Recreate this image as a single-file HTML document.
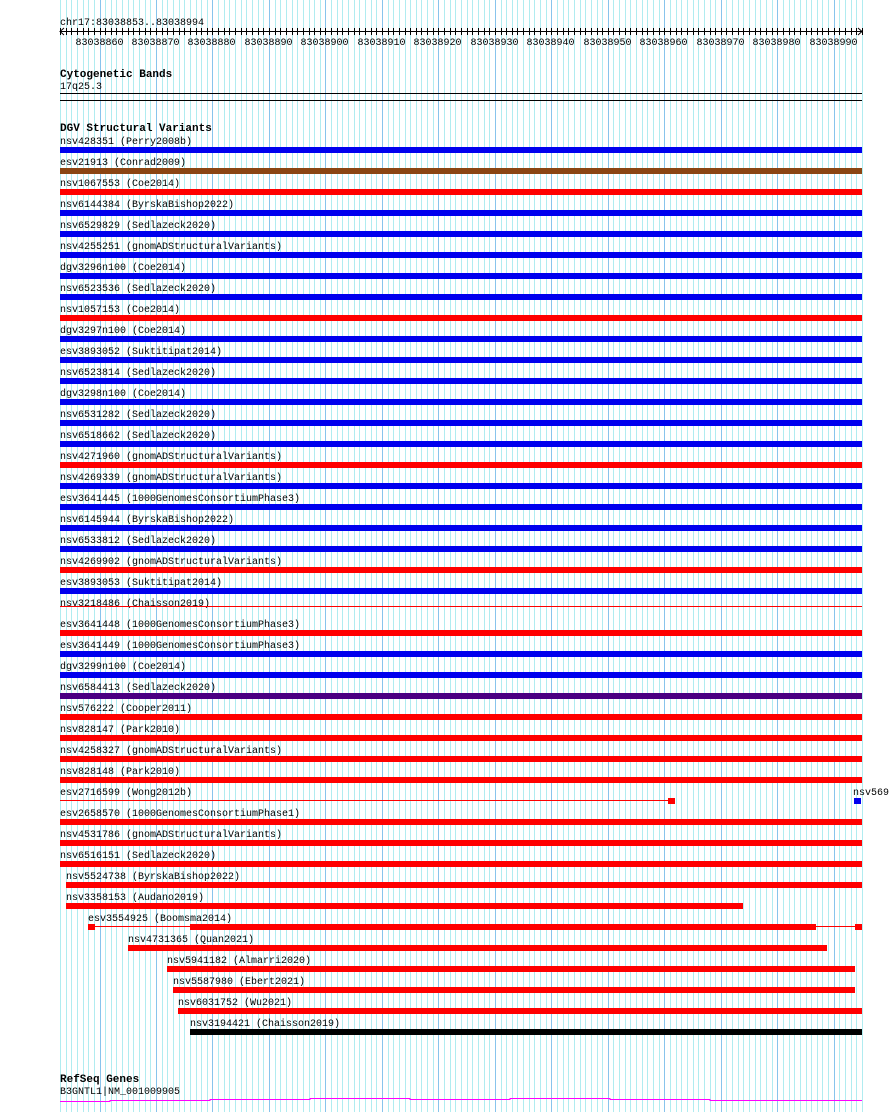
<!DOCTYPE html>
<html><head><meta charset="utf-8"><style>
body{margin:0;background:#fff;}
svg text{font-family:"Liberation Mono","DejaVu Sans Mono",monospace;font-size:10px;fill:#000;}
.b{font-weight:bold;font-size:11px;}
</style></head><body>
<svg id="s" width="890" height="1112" xmlns="http://www.w3.org/2000/svg"></svg>
<script>
var s=document.getElementById('s'),h='';
var x0=60,x1=862,pb=(x1-x0)/142;
for(var i=0;i<=142;i++){var x=Math.round(x0+i*pb)+0.5;var p=83038853+i;
h+='<line x1="'+x+'" y1="0" x2="'+x+'" y2="1112" stroke="'+(p%10==0?'#88c4ec':'#b0ecf0')+'" stroke-width="1"/>';}
h+='<text x="60" y="25">chr17:83038853..83038994</text>';
h+='<line x1="60" y1="31.5" x2="862" y2="31.5" stroke="#000"/>';
h+='<path d="M64 28 L60 31.5 L64 35 M858 28 L862 31.5 L858 35" stroke="#000" fill="none"/>';
for(var i=0;i<=142;i++){var x=Math.round(x0+i*pb)+0.5;var p=83038853+i;
h+='<line x1="'+x+'" y1="28" x2="'+x+'" y2="35" stroke="#000"/>';
if(p%10==0)h+='<text x="'+(x-1)+'" y="45" text-anchor="middle">'+p+'</text>';}
h+='<text class="b" x="60" y="77">Cytogenetic Bands</text><text x="60" y="89">17q25.3</text>';
h+='<line x1="60" y1="93.5" x2="862" y2="93.5" stroke="#000"/><line x1="60" y1="100.5" x2="862" y2="100.5" stroke="#000"/>';
h+='<text class="b" x="60" y="131">DGV Structural Variants</text>';
var B='#0000ee',R='#ff0000';
var rows=[
['nsv428351 (Perry2008b)',B],['esv21913 (Conrad2009)','#8b4513'],['nsv1067553 (Coe2014)',R],['nsv6144384 (ByrskaBishop2022)',B],
['nsv6529829 (Sedlazeck2020)',B],['nsv4255251 (gnomADStructuralVariants)',B],['dgv3296n100 (Coe2014)',B],['nsv6523536 (Sedlazeck2020)',B],
['nsv1057153 (Coe2014)',R],['dgv3297n100 (Coe2014)',B],['esv3893052 (Suktitipat2014)',B],['nsv6523814 (Sedlazeck2020)',B],
['dgv3298n100 (Coe2014)',B],['nsv6531282 (Sedlazeck2020)',B],['nsv6518662 (Sedlazeck2020)',B],['nsv4271960 (gnomADStructuralVariants)',R],
['nsv4269339 (gnomADStructuralVariants)',B],['esv3641445 (1000GenomesConsortiumPhase3)',B],['nsv6145944 (ByrskaBishop2022)',B],['nsv6533812 (Sedlazeck2020)',B],
['nsv4269902 (gnomADStructuralVariants)',R],['esv3893053 (Suktitipat2014)',B],['nsv3218486 (Chaisson2019)','thin'],['esv3641448 (1000GenomesConsortiumPhase3)',R],
['esv3641449 (1000GenomesConsortiumPhase3)',B],['dgv3299n100 (Coe2014)',B],['nsv6584413 (Sedlazeck2020)','#4b0082'],['nsv576222 (Cooper2011)',R],
['nsv828147 (Park2010)',R],['nsv4258327 (gnomADStructuralVariants)',R],['nsv828148 (Park2010)',R],['esv2716599 (Wong2012b)','sp'],
['esv2658570 (1000GenomesConsortiumPhase1)',R],['nsv4531786 (gnomADStructuralVariants)',R],['nsv6516151 (Sedlazeck2020)',R],
['nsv5524738 (ByrskaBishop2022)',R,66,862],['nsv3358153 (Audano2019)',R,66,743],['esv3554925 (Boomsma2014)','sp2',88],
['nsv4731365 (Quan2021)',R,128,827],['nsv5941182 (Almarri2020)',R,167,855],['nsv5587980 (Ebert2021)',R,173,855],
['nsv6031752 (Wu2021)',R,178,862],['nsv3194421 (Chaisson2019)','#000',190,862]];
for(var k=0;k<rows.length;k++){var r=rows[k],y=147+21*k,c=r[1],a=r[2]||60,e=r[3]||862;
h+='<text x="'+a+'" y="'+(y-3)+'">'+r[0]+'</text>';
if(c=='thin'){h+='<line x1="60" y1="'+(y-2.5)+'" x2="862" y2="'+(y-2.5)+'" stroke="'+R+'"/>';}
else if(c=='sp'){h+='<line x1="60" y1="'+(y+2.5)+'" x2="668" y2="'+(y+2.5)+'" stroke="'+R+'"/><rect x="668" y="'+y+'" width="7" height="6" fill="'+R+'"/>';
h+='<rect x="854" y="'+y+'" width="7" height="6" fill="'+B+'"/><text x="853" y="'+(y-3)+'">nsv569</text>';}
else if(c=='sp2'){h+='<rect x="88" y="'+y+'" width="7" height="6" fill="'+R+'"/><line x1="94" y1="'+(y+2.5)+'" x2="855" y2="'+(y+2.5)+'" stroke="'+R+'"/><rect x="190" y="'+y+'" width="626" height="6" fill="'+R+'"/><rect x="855" y="'+y+'" width="7" height="6" fill="'+R+'"/>';}
else h+='<rect x="'+a+'" y="'+y+'" width="'+(e-a)+'" height="6" fill="'+c+'"/>';}
h+='<text class="b" x="60" y="1082">RefSeq Genes</text><text x="60" y="1094">B3GNTL1|NM_001009905</text>';
h+='<path d="M60 1101.5 H110 V1100.5 H210 V1099.5 H310 V1098.5 H410 V1099.5 H510 V1098.5 H610 V1099.5 H710 V1100.5 H862" stroke="#ff00ff" fill="none"/>';
s.innerHTML=h;
</script>
</body></html>
